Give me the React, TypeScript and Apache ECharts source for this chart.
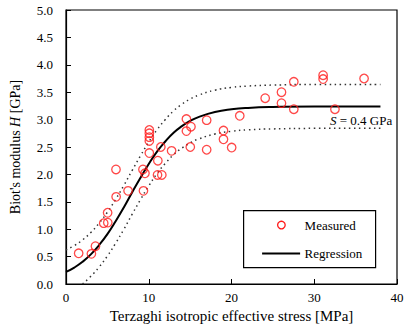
import React, { useEffect, useRef } from "react";
import * as echarts from "echarts";

const measuredX = [1.53, 3.07, 3.56, 4.56, 5.05, 5.03, 6.06, 6.04, 7.5, 9.36, 9.3, 9.54, 10.07, 10.07, 10.07, 10.07, 10.07, 11.1, 11.06, 11.58, 11.46, 12.76, 14.55, 15.1, 14.55, 15.02, 17.0, 17.0, 19.03, 19.03, 20.02, 21.0, 24.07, 26.04, 26.04, 27.53, 27.53, 31.07, 31.07, 36.02, 32.5];
const measuredY = [0.56, 0.55, 0.69, 1.11, 1.12, 1.3, 1.59, 2.09, 1.7, 1.7, 2.09, 2.02, 2.81, 2.75, 2.68, 2.61, 2.39, 2.25, 1.99, 1.99, 2.5, 2.43, 3.01, 2.87, 2.79, 2.5, 2.99, 2.45, 2.8, 2.64, 2.49, 3.07, 3.39, 3.5, 3.3, 3.69, 3.19, 3.81, 3.74, 3.75, 3.19];

const curveX = [0, 1, 2, 3, 4, 5, 6, 7, 8, 9, 10, 11, 12, 13, 14, 15, 16, 18, 20, 22, 25, 30, 38];
const regressionY = [0.22, 0.3, 0.405, 0.54, 0.71, 0.91, 1.145, 1.4, 1.675, 1.94, 2.19, 2.415, 2.6, 2.76, 2.88, 2.975, 3.045, 3.137, 3.187, 3.213, 3.23, 3.24, 3.24];
const upperY = [0.62, 0.7, 0.805, 0.94, 1.11, 1.31, 1.545, 1.8, 2.075, 2.34, 2.59, 2.815, 3.0, 3.16, 3.28, 3.375, 3.445, 3.537, 3.587, 3.613, 3.63, 3.64, 3.64];
const lowerX = [2, 3, 4, 5, 6, 7, 8, 9, 10, 11, 12, 13, 14, 15, 16, 18, 20, 22, 25, 30, 38];
const lowerY = [0.0, 0.14, 0.31, 0.51, 0.745, 1.0, 1.275, 1.54, 1.79, 2.015, 2.2, 2.36, 2.48, 2.575, 2.645, 2.737, 2.787, 2.813, 2.83, 2.84, 2.84];

const xTicks = [0, 10, 20, 30, 40];
const legendNames = ["Measured", "Regression"];
const FONT = "Liberation Serif";
const RED = "#ff1a1a";

export default function App() {
  const ref = useRef<HTMLDivElement>(null);
  useEffect(() => {
    if (!ref.current) return;
    const chart = echarts.init(ref.current, null, { renderer: "svg" });
    const dotted = { color: "#333", width: 1.5, type: [1.5, 3.5] as any };
    const txt = { fontSize: 13, fontFamily: FONT, fill: "#000" };
    chart.setOption({
      animation: false,
      backgroundColor: "#fff",
      textStyle: { fontFamily: FONT },
      grid: { left: 58, right: 18, top: 10, bottom: 48, show: true, borderColor: "#000", borderWidth: 1.2, backgroundColor: "transparent" },
      xAxis: {
        type: "value", min: xTicks[0], max: xTicks[xTicks.length - 1], interval: 10,
        axisLine: { show: true, lineStyle: { color: "#000", width: 1.2 } },
        axisTick: { show: true, inside: true, length: 5, lineStyle: { color: "#000" } },
        splitLine: { show: false },
        axisLabel: { color: "#000", fontSize: 13, fontFamily: FONT, margin: 7 },
        name: "Terzaghi isotropic effective stress [MPa]",
        nameLocation: "middle", nameGap: 23,
        nameTextStyle: { color: "#000", fontSize: 15, fontFamily: FONT },
      },
      yAxis: {
        type: "value", min: 0, max: 5, interval: 0.5,
        axisLine: { show: true, lineStyle: { color: "#000", width: 1.2 } },
        axisTick: { show: true, inside: true, length: 5, lineStyle: { color: "#000" } },
        splitLine: { show: false },
        axisLabel: { color: "#000", fontSize: 13, fontFamily: FONT, margin: 13, formatter: (v: number) => v.toFixed(1) },
        name: "{n|Biot's modulus }{i|H}{n| [GPa]}",
        nameLocation: "middle", nameGap: 44,
        nameTextStyle: {
          color: "#000", fontSize: 14, fontFamily: FONT,
          rich: {
            n: { fontSize: 14, fontFamily: FONT, color: "#000" },
            i: { fontSize: 14, fontFamily: FONT, fontStyle: "italic", color: "#000" },
          },
        },
      },
      series: [
        {
          name: "Upper", type: "line", data: curveX.map((x, i) => [x, upperY[i]]),
          smooth: true, symbol: "none", lineStyle: dotted, silent: true, z: 1,
        },
        {
          name: "Lower", type: "line", data: lowerX.map((x, i) => [x, lowerY[i]]),
          smooth: true, symbol: "none", lineStyle: dotted, silent: true, z: 1,
        },
        {
          name: legendNames[1], type: "line", data: curveX.map((x, i) => [x, regressionY[i]]),
          smooth: true, symbol: "none", color: "#000", lineStyle: { color: "#000", width: 2 }, z: 2,
        },
        {
          name: legendNames[0], type: "scatter", data: measuredX.map((x, i) => [x, measuredY[i]]),
          symbol: "circle", symbolSize: 8.5, color: RED,
          itemStyle: { color: "transparent", borderColor: RED, borderWidth: 1.3 },
          z: 3,
        },
      ],
      graphic: [
        {
          type: "text", left: 330, top: 114,
          style: {
            text: "{i|S}{n| = 0.4 GPa}",
            rich: {
              i: { ...txt, fontStyle: "italic" },
              n: txt,
            },
          },
        },
        {
          type: "group", left: 243, top: 210,
          children: [
            { type: "rect", shape: { x: 0.5, y: 0.5, width: 132, height: 57 }, style: { fill: "#fff", stroke: "#000", lineWidth: 1.2 } },
            { type: "circle", shape: { cx: 38.3, cy: 15, r: 3.8 }, style: { fill: "none", stroke: RED, lineWidth: 1.3 } },
            { type: "text", x: 61.5, y: 15, style: { ...txt, text: legendNames[0], verticalAlign: "middle" } },
            { type: "line", shape: { x1: 19, y1: 43.3, x2: 57, y2: 43.3 }, style: { stroke: "#000", lineWidth: 2 } },
            { type: "text", x: 61.5, y: 43.3, style: { ...txt, text: legendNames[1], verticalAlign: "middle" } },
          ],
        },
      ],
    });
    return () => chart.dispose();
  }, []);
  return <div ref={ref} style={{ width: 415, height: 332, position: "absolute", left: 0, top: 0 }} />;
}
